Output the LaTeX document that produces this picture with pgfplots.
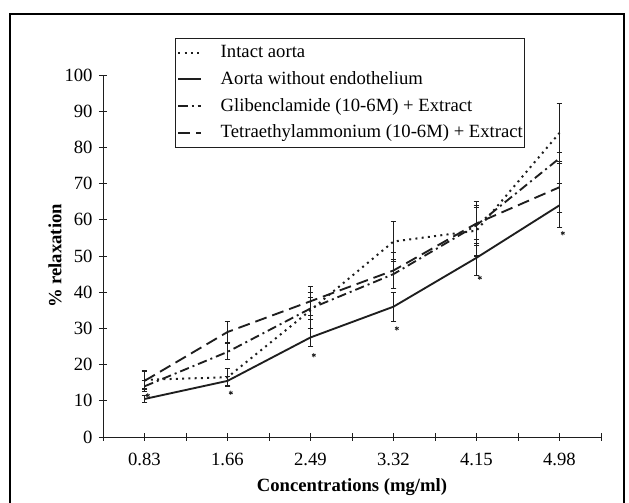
\documentclass[border=0pt]{standalone}
\usepackage{fontspec}
\setmainfont{Liberation Serif}
\usepackage{pgfplots}
\pgfplotsset{compat=1.18}
\definecolor{ink}{RGB}{30,30,30}

\begin{document}
\fontsize{14}{16.8}\selectfont
\begin{tikzpicture}
  \useasboundingbox (-77.25pt,-49.5pt) rectangle (394.5pt,327.75pt);
  % outer frame (open at the bottom)
  \draw[line width=1.5pt] (-69.75pt,-60pt) -- (-69.75pt,317.25pt) -- (390.75pt,317.25pt) -- (390.75pt,-60pt);
  \begin{axis}[
    scale only axis,
    width=373.5pt,
    height=271.5pt,
    xmin=-0.5, xmax=5.5,
    ymin=0, ymax=100,
    axis x line*=bottom,
    axis y line*=left,
    axis line style={line width=0.7pt, draw=ink},
    xtick={0,...,5},
    xticklabels={0.83,1.66,2.49,3.32,4.15,4.98},
    minor xtick={-0.5,0.5,...,5.5},
    ytick={0,10,...,100},
    tick align=center,
    major tick length=6pt,
    minor tick length=6pt,
    tick style={line width=0.7pt, draw=ink},
    /pgf/number format/assume math mode=true,
    tick label style={font=\fontsize{14}{16.8}\selectfont},
    xticklabel style={yshift=-4pt},
    every axis x label/.style={at={(axis description cs:0.5,0)}, yshift=-37.5pt, anchor=center},
    every axis y label/.style={at={(axis description cs:0,0.5)}, xshift=-36pt, rotate=90, anchor=center},
    xlabel={\bfseries Concentrations (mg/ml)},
    ylabel={\bfseries\% relaxation},
    legend style={
      at={(rel axis cs:0.1446,1.1025)}, anchor=north west,
      draw=ink, line width=0.6pt, fill=white,
      inner xsep=1.5pt, inner ysep=3.2pt,
      nodes={inner xsep=0pt},
      row sep=4.3pt,
      cells={anchor=west},
      font=\fontsize{14}{16.8}\selectfont,
      /tikz/every odd column/.append style={column sep=14pt},
    },
    legend image code/.code={\draw[#1] (0pt,0pt) -- (17pt,0pt);},
    error bars/error bar style={line width=0.6pt, solid, draw=ink},
    error bars/error mark options={rotate=90, mark size=2.2pt, line width=0.8pt, solid, draw=ink},
  ]
    % Intact aorta
    \addplot[ink, line width=1.5pt, dash pattern=on 1.5pt off 3.2pt,
      error bars/.cd, y dir=both, y explicit]
      coordinates {
        (0,15.8) +- (0,2.5)
        (1,16.5) +- (0,2.5)
        (2,35.0) +- (0,5.0)
        (3,54.0) +- (0,5.5)
        (4,57.0) +- (0,7.0)
        (5,84.0) +- (0,8.0)
      };
    % Aorta without endothelium
    \addplot[ink, line width=1.4pt, solid,
      error bars/.cd, y dir=both, y explicit]
      coordinates {
        (0,10.5) +- (0,1.0)
        (1,15.5) +- (0,1.3)
        (2,27.5) +- (0,2.5)
        (3,36.0) +- (0,4.0)
        (4,49.5) +- (0,5.0)
        (5,64.0) +- (0,6.0)
      };
    % Glibenclamide + extract
    \addplot[ink, line width=1.4pt, dash pattern=on 7pt off 3pt on 1.5pt off 3pt,
      error bars/.cd, y dir=both, y explicit]
      coordinates {
        (0,14.0) +- (0,1.5)
        (1,23.5) +- (0,2.2)
        (2,35.5) +- (0,3.0)
        (3,45.0) +- (0,4.0)
        (4,58.5) +- (0,5.0)
        (5,77.0) +- (0,1.5)
      };
    % Tetraethylammonium + extract
    \addplot[ink, line width=1.4pt, dash pattern=on 9pt off 4.5pt,
      error bars/.cd, y dir=both, y explicit]
      coordinates {
        (0,15.5) +- (0,2.5)
        (1,29.0) +- (0,2.9)
        (2,37.5) +- (0,4.0)
        (3,46.0) +- (0,5.0)
        (4,59.0) +- (0,6.0)
        (5,69.0) +- (0,7.0)
      };
    % significance marks
    \addplot[only marks, mark=asterisk, mark size=1.6pt, ink, line width=0.6pt, forget plot]
      coordinates {
        (0.04,11.5) (1.04,12.2) (2.04,22.6) (3.04,30.0) (4.04,44.0) (5.04,56.3)
      };
    \legend{Intact aorta, Aorta without endothelium, Glibenclamide (10-6M) + Extract, Tetraethylammonium (10-6M) + Extract}
  \end{axis}
\end{tikzpicture}
\end{document}
